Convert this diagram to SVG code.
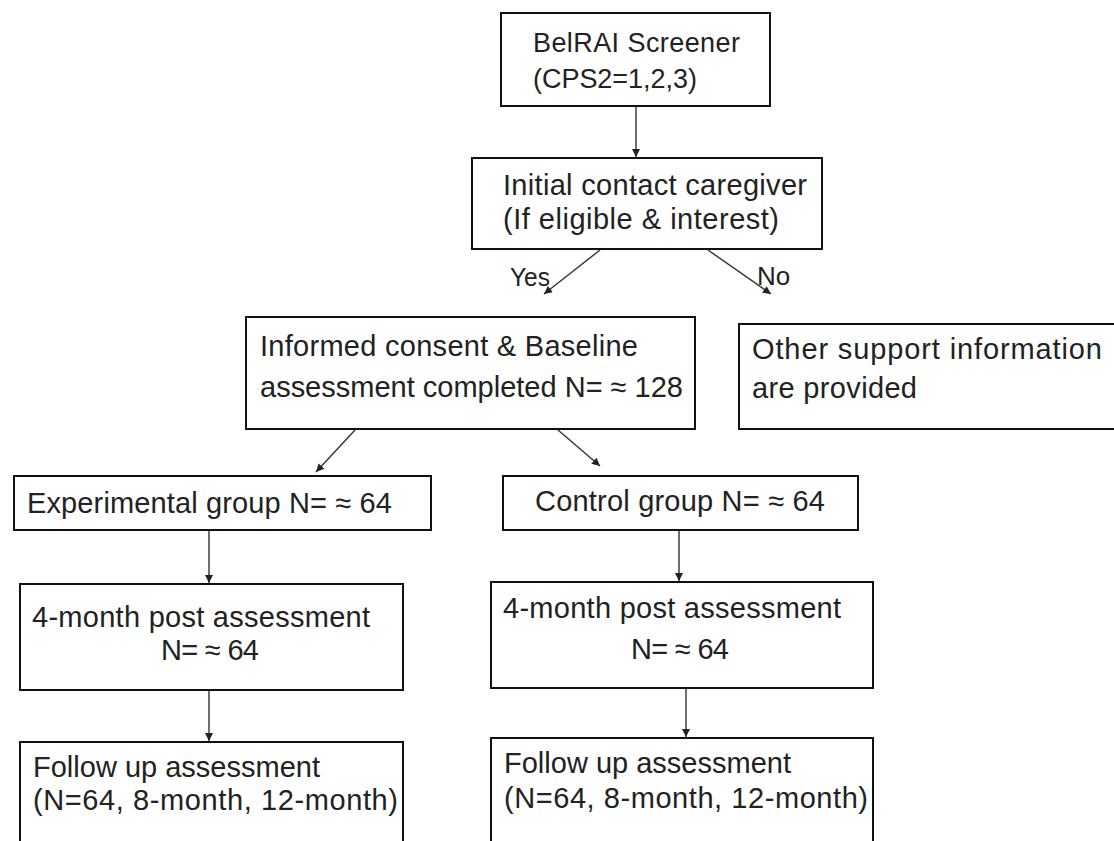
<svg xmlns="http://www.w3.org/2000/svg" width="1114" height="841" viewBox="0 0 1114 841">
<style>
.box{fill:#fff;stroke:#111;stroke-width:2}
.t{font-family:"Liberation Sans",Arial,sans-serif;font-size:29px;fill:#222}
.s{font-size:27px}
.lbl{font-family:"Liberation Sans",Arial,sans-serif;font-size:26px;fill:#222}
.c{stroke:#333;stroke-width:1.4;fill:none;marker-end:url(#ah)}
</style>
<defs>
<marker id="ah" viewBox="0 0 10 10" refX="10" refY="5" markerWidth="10" markerHeight="8" orient="auto" markerUnits="userSpaceOnUse">
<path d="M0,0 L10,5 L0,10 z" fill="#222"/>
</marker>
</defs>
<rect width="1114" height="841" fill="#fff"/>
<g id="connectors">
<line class="c" x1="636" y1="106" x2="636" y2="157"/>
<line class="c" x1="600" y1="250" x2="544" y2="294"/>
<line class="c" x1="708" y1="250" x2="771" y2="294"/>
<line class="c" x1="355" y1="430" x2="316" y2="472"/>
<line class="c" x1="558" y1="430" x2="600" y2="466"/>
<line class="c" x1="209" y1="530" x2="209" y2="583"/>
<line class="c" x1="679" y1="530" x2="679" y2="581"/>
<line class="c" x1="209" y1="690" x2="209" y2="741"/>
<line class="c" x1="686" y1="688" x2="686" y2="737"/>
<text class="lbl" x="510" y="286" textLength="40" lengthAdjust="spacingAndGlyphs">Yes</text>
<text class="lbl" x="757" y="285">No</text>
</g>
<g id="screener">
<rect class="box" x="501" y="13" width="269" height="93"/>
<text class="t s" x="533" y="52" textLength="207">BelRAI Screener</text>
<text class="t s" x="533" y="88" textLength="164">(CPS2=1,2,3)</text>
</g>
<g id="contact">
<rect class="box" x="472" y="158" width="350" height="91"/>
<text class="t" x="503" y="195" textLength="304">Initial contact caregiver</text>
<text class="t" x="503" y="229" textLength="276">(If eligible &amp; interest)</text>
</g>
<g id="consent">
<rect class="box" x="246" y="317" width="449" height="112"/>
<text class="t" x="260" y="356" textLength="378">Informed consent &amp; Baseline</text>
<text class="t" x="260" y="397" textLength="423">assessment completed N= ≈ 128</text>
</g>
<g id="other">
<rect class="box" x="739" y="324" width="380" height="105"/>
<text class="t" x="752" y="359" textLength="350">Other support information</text>
<text class="t" x="752" y="398" textLength="165">are provided</text>
</g>
<g id="experimental">
<rect class="box" x="14" y="476" width="417" height="54"/>
<text class="t" x="27" y="513" textLength="365">Experimental group N= ≈ 64</text>
</g>
<g id="control">
<rect class="box" x="503" y="476" width="355" height="54"/>
<text class="t" x="535" y="511" textLength="290">Control group N= ≈ 64</text>
</g>
<g id="post-exp">
<rect class="box" x="20" y="584" width="383" height="106"/>
<text class="t" x="32" y="627" textLength="338">4-month post assessment</text>
<text class="t" x="161" y="660" textLength="98">N= ≈ 64</text>
</g>
<g id="post-ctrl">
<rect class="box" x="491" y="582" width="382" height="106"/>
<text class="t" x="503" y="618" textLength="338">4-month post assessment</text>
<text class="t" x="631" y="659" textLength="98">N= ≈ 64</text>
</g>
<g id="follow-exp">
<rect class="box" x="20" y="742" width="383" height="110"/>
<text class="t" x="33" y="777" textLength="287">Follow up assessment</text>
<text class="t" x="33" y="810" textLength="365">(N=64, 8-month, 12-month)</text>
</g>
<g id="follow-ctrl">
<rect class="box" x="491" y="738" width="382" height="114"/>
<text class="t" x="504" y="773" textLength="287">Follow up assessment</text>
<text class="t" x="504" y="808" textLength="364">(N=64, 8-month, 12-month)</text>
</g>
</svg>
